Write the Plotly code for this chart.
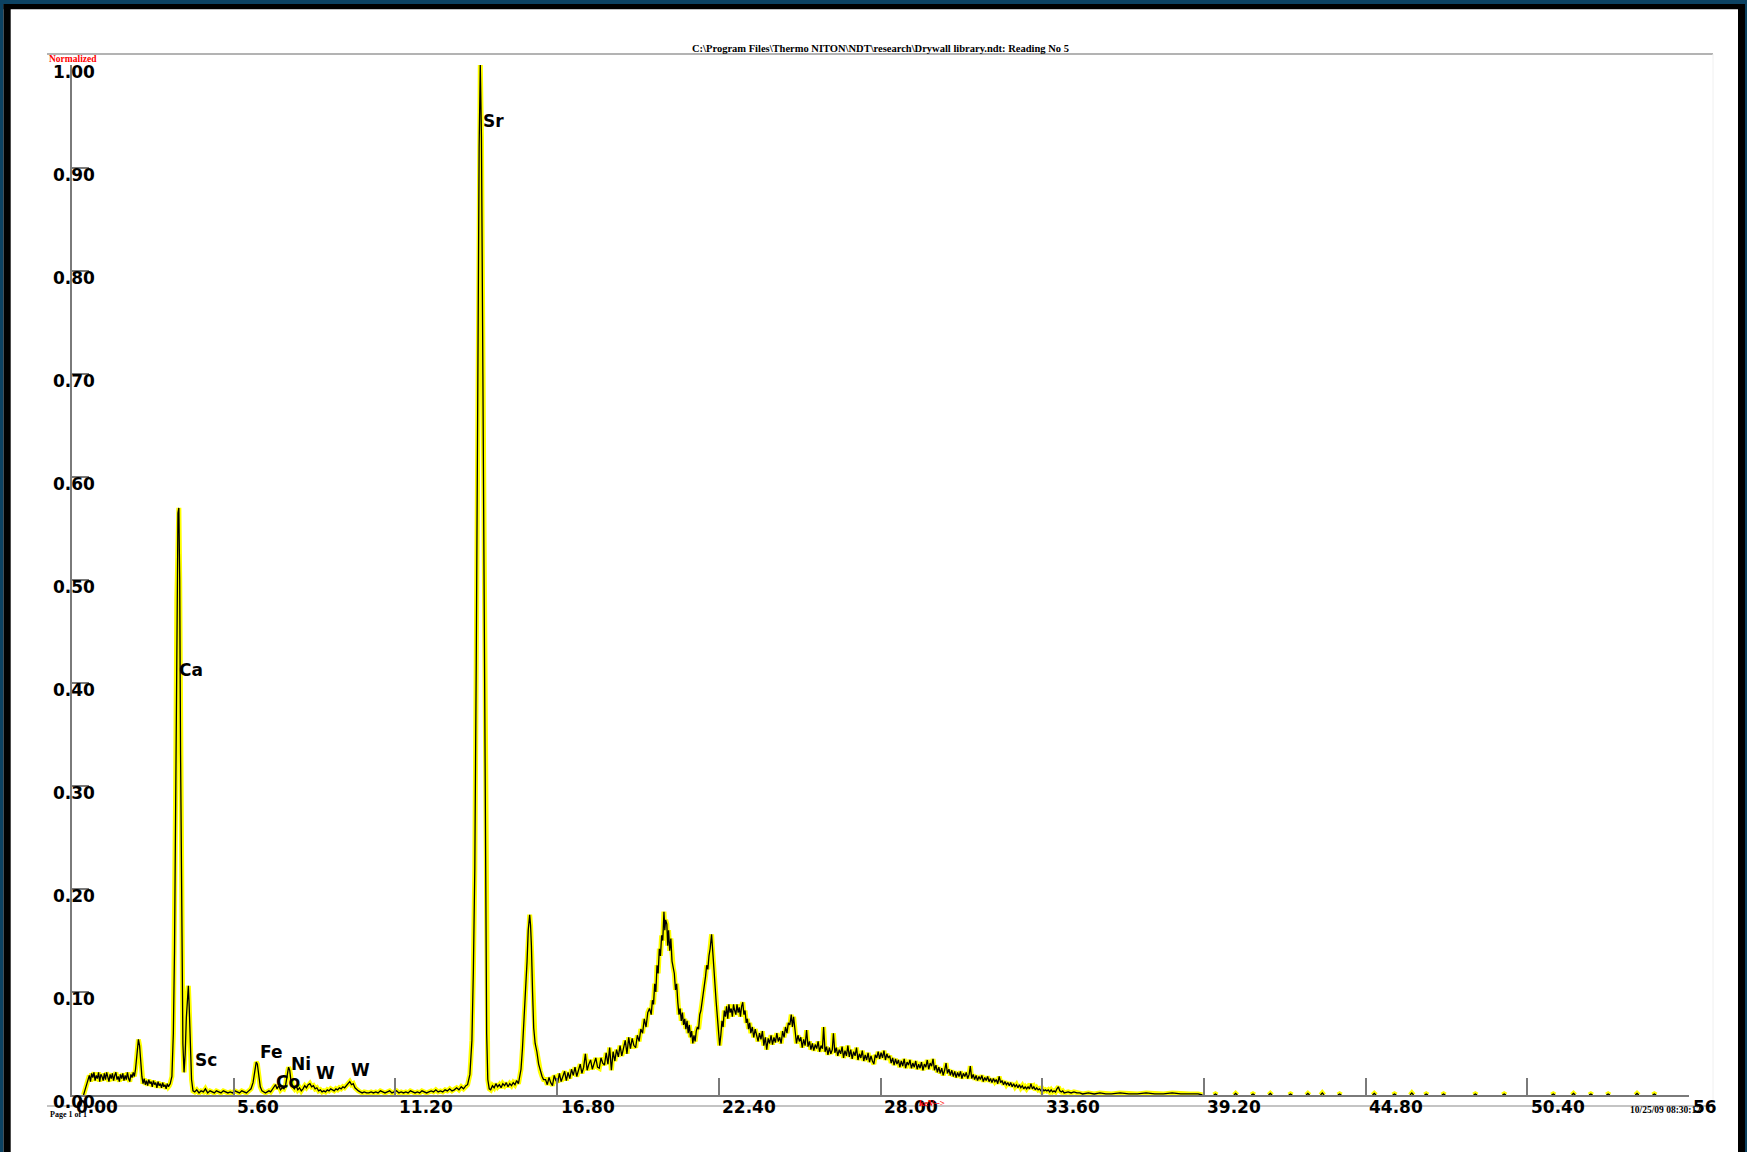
import plotly.graph_objects as go

# ---------------- data ----------------
# (energy keV, normalized intensity)
seg_low = [
    (0.40, 0.000), (0.48, 0.008), (0.55, 0.016), (0.60, 0.019), (0.64, 0.013), (0.68, 0.021),
    (0.72, 0.017), (0.76, 0.022), (0.80, 0.014), (0.84, 0.019), (0.88, 0.016), (0.92, 0.022),
    (0.96, 0.013), (1.00, 0.020), (1.04, 0.018), (1.08, 0.014), (1.12, 0.021), (1.16, 0.015),
    (1.20, 0.022), (1.24, 0.017), (1.28, 0.013), (1.32, 0.020), (1.36, 0.016), (1.40, 0.021),
    (1.44, 0.014), (1.48, 0.019), (1.52, 0.022), (1.56, 0.015), (1.60, 0.018), (1.64, 0.013),
    (1.68, 0.020), (1.72, 0.016), (1.76, 0.021), (1.80, 0.014), (1.84, 0.019), (1.88, 0.015),
    (1.92, 0.022), (1.96, 0.016), (2.00, 0.013), (2.04, 0.020), (2.08, 0.017), (2.12, 0.022),
    (2.16, 0.018), (2.20, 0.025), (2.25, 0.042), (2.30, 0.054), (2.34, 0.048), (2.38, 0.030),
    (2.42, 0.018), (2.46, 0.011), (2.50, 0.016), (2.54, 0.010), (2.58, 0.014), (2.62, 0.009),
    (2.66, 0.015), (2.70, 0.011), (2.74, 0.013), (2.78, 0.008), (2.82, 0.014), (2.86, 0.010),
    (2.90, 0.012), (2.94, 0.007), (2.98, 0.013), (3.02, 0.009), (3.06, 0.011), (3.10, 0.007),
    (3.14, 0.012), (3.18, 0.008), (3.22, 0.010), (3.26, 0.006), (3.30, 0.011), (3.34, 0.008),
    (3.37, 0.009),
]
seg_ca = [
    (3.40, 0.011), (3.46, 0.018), (3.51, 0.060), (3.55, 0.140), (3.59, 0.300), (3.63, 0.480),
    (3.67, 0.565), (3.70, 0.570), (3.73, 0.500), (3.76, 0.330), (3.80, 0.140), (3.84, 0.050),
    (3.88, 0.022), (3.92, 0.040), (3.96, 0.075), (4.00, 0.100), (4.03, 0.106), (4.06, 0.085),
    (4.10, 0.045), (4.14, 0.015), (4.19, 0.004),
]
seg_mid = [
    (4.25, 0.003), (4.32, 0.005), (4.40, 0.002), (4.47, 0.004), (4.55, 0.003), (4.62, 0.006),
    (4.70, 0.002), (4.78, 0.004), (4.85, 0.003), (4.93, 0.002), (5.00, 0.004), (5.08, 0.003),
    (5.16, 0.002), (5.24, 0.004), (5.32, 0.003), (5.40, 0.002), (5.48, 0.003), (5.56, 0.002),
    (5.64, 0.004), (5.72, 0.003), (5.80, 0.002), (5.88, 0.004), (5.96, 0.003), (6.04, 0.002),
    (6.12, 0.004), (6.20, 0.006), (6.27, 0.012), (6.33, 0.024), (6.38, 0.032), (6.42, 0.030),
    (6.47, 0.018), (6.52, 0.008), (6.58, 0.004), (6.64, 0.003), (6.70, 0.002), (6.76, 0.003),
    (6.82, 0.004), (6.88, 0.003), (6.94, 0.006), (7.00, 0.008), (7.05, 0.010), (7.10, 0.006),
    (7.16, 0.009), (7.22, 0.005), (7.28, 0.007), (7.34, 0.006), (7.40, 0.010), (7.45, 0.020),
    (7.50, 0.027), (7.54, 0.024), (7.59, 0.012), (7.64, 0.008), (7.70, 0.006), (7.76, 0.009),
    (7.82, 0.005), (7.88, 0.007), (7.94, 0.004), (8.00, 0.006), (8.06, 0.009), (8.12, 0.007),
    (8.18, 0.010), (8.24, 0.011), (8.30, 0.008), (8.36, 0.009), (8.42, 0.006), (8.48, 0.007),
    (8.54, 0.004), (8.60, 0.005), (8.66, 0.003), (8.72, 0.004), (8.78, 0.003), (8.84, 0.005),
    (8.90, 0.004), (8.96, 0.006), (9.02, 0.005), (9.08, 0.004), (9.14, 0.006), (9.20, 0.005),
    (9.26, 0.007), (9.32, 0.006), (9.38, 0.008), (9.44, 0.007), (9.50, 0.009), (9.56, 0.011),
    (9.62, 0.013), (9.68, 0.010), (9.74, 0.011), (9.80, 0.007), (9.86, 0.005), (9.92, 0.004),
    (9.98, 0.003), (10.05, 0.002), (10.12, 0.003), (10.20, 0.002), (10.28, 0.002), (10.36, 0.003),
    (10.44, 0.002), (10.52, 0.003), (10.60, 0.002), (10.68, 0.004), (10.76, 0.003), (10.84, 0.002),
    (10.92, 0.003), (11.00, 0.004), (11.08, 0.002), (11.16, 0.003), (11.24, 0.004), (11.32, 0.002),
    (11.40, 0.003), (11.48, 0.002), (11.56, 0.003), (11.64, 0.002), (11.72, 0.004), (11.80, 0.003),
    (11.88, 0.002), (11.96, 0.003), (12.04, 0.002), (12.12, 0.004), (12.20, 0.003), (12.28, 0.002),
    (12.36, 0.003), (12.44, 0.004), (12.52, 0.003), (12.60, 0.005), (12.68, 0.003), (12.76, 0.004),
    (12.84, 0.003), (12.92, 0.005), (13.00, 0.004), (13.08, 0.006), (13.16, 0.004), (13.24, 0.005),
    (13.32, 0.007), (13.40, 0.005), (13.48, 0.008), (13.56, 0.006), (13.64, 0.009),
]
seg_sr = [
    (13.70, 0.010), (13.78, 0.020), (13.85, 0.053), (13.90, 0.120), (13.95, 0.220), (14.00, 0.420),
    (14.05, 0.680), (14.10, 0.920), (14.14, 1.000), (14.18, 0.930), (14.23, 0.700), (14.28, 0.400),
    (14.32, 0.200), (14.36, 0.060), (14.40, 0.015), (14.45, 0.006),
    (14.50, 0.005), (14.56, 0.009), (14.62, 0.007), (14.68, 0.011), (14.74, 0.008), (14.80, 0.010),
    (14.86, 0.007), (14.92, 0.011), (14.98, 0.009), (15.04, 0.012), (15.10, 0.008), (15.16, 0.011),
    (15.22, 0.009), (15.28, 0.012), (15.34, 0.010), (15.40, 0.014), (15.46, 0.011), (15.50, 0.017),
    (15.55, 0.025), (15.60, 0.045), (15.65, 0.070), (15.70, 0.100), (15.76, 0.130), (15.80, 0.160),
    (15.85, 0.175), (15.88, 0.165), (15.91, 0.145), (15.95, 0.100), (15.99, 0.065), (16.04, 0.050),
    (16.10, 0.042), (16.16, 0.030), (16.22, 0.023), (16.28, 0.018), (16.33, 0.015),
]
seg_scatter = [
    (16.40, 0.015), (16.46, 0.010), (16.52, 0.017), (16.58, 0.012), (16.64, 0.009), (16.70, 0.019),
    (16.76, 0.014), (16.82, 0.012), (16.88, 0.021), (16.94, 0.013), (17.00, 0.019), (17.06, 0.023),
    (17.12, 0.014), (17.18, 0.022), (17.24, 0.016), (17.30, 0.025), (17.36, 0.019), (17.42, 0.027),
    (17.48, 0.018), (17.54, 0.023), (17.60, 0.030), (17.66, 0.021), (17.72, 0.027), (17.78, 0.040),
    (17.84, 0.024), (17.90, 0.030), (17.96, 0.034), (18.02, 0.025), (18.08, 0.032), (18.14, 0.036),
    (18.20, 0.027), (18.26, 0.026), (18.32, 0.036), (18.38, 0.031), (18.44, 0.029), (18.50, 0.041),
    (18.56, 0.030), (18.62, 0.046), (18.68, 0.024), (18.74, 0.042), (18.80, 0.033), (18.86, 0.044),
    (18.92, 0.037), (18.98, 0.048), (19.04, 0.038), (19.10, 0.045), (19.16, 0.053), (19.22, 0.040),
    (19.28, 0.056), (19.34, 0.045), (19.40, 0.055), (19.46, 0.048), (19.52, 0.046), (19.58, 0.058),
    (19.64, 0.052), (19.70, 0.064), (19.76, 0.060), (19.82, 0.074), (19.88, 0.066), (19.94, 0.080),
    (20.00, 0.084), (20.06, 0.078), (20.10, 0.092), (20.14, 0.088), (20.18, 0.108), (20.22, 0.100),
    (20.26, 0.126), (20.30, 0.118), (20.34, 0.142), (20.38, 0.135), (20.42, 0.155), (20.46, 0.150),
    (20.50, 0.178), (20.53, 0.160), (20.56, 0.170), (20.60, 0.166), (20.63, 0.145), (20.66, 0.160),
    (20.70, 0.140), (20.74, 0.152), (20.78, 0.130), (20.82, 0.124), (20.86, 0.118), (20.90, 0.102),
    (20.94, 0.108), (20.98, 0.090), (21.02, 0.078), (21.06, 0.084), (21.10, 0.072), (21.14, 0.080),
    (21.18, 0.068), (21.22, 0.074), (21.26, 0.064), (21.30, 0.072), (21.34, 0.060), (21.38, 0.068),
    (21.42, 0.056), (21.46, 0.062), (21.50, 0.050), (21.54, 0.058), (21.58, 0.052), (21.62, 0.062),
    (21.66, 0.066), (21.70, 0.064), (21.74, 0.078), (21.78, 0.082), (21.82, 0.090), (21.86, 0.096),
    (21.90, 0.108), (21.94, 0.115), (21.98, 0.126), (22.02, 0.122), (22.06, 0.135), (22.10, 0.142),
    (22.15, 0.156), (22.19, 0.138), (22.23, 0.118), (22.27, 0.104), (22.31, 0.090), (22.35, 0.076),
    (22.39, 0.060), (22.43, 0.048), (22.47, 0.058), (22.51, 0.072), (22.55, 0.066), (22.59, 0.082),
    (22.63, 0.076), (22.67, 0.086), (22.71, 0.074), (22.75, 0.088), (22.79, 0.080), (22.83, 0.084),
    (22.87, 0.076), (22.91, 0.088), (22.95, 0.082), (22.99, 0.078), (23.03, 0.088), (23.07, 0.080),
    (23.11, 0.085), (23.15, 0.076), (23.19, 0.086), (23.23, 0.090), (23.27, 0.078), (23.31, 0.082),
    (23.35, 0.070), (23.39, 0.074), (23.43, 0.064), (23.47, 0.070), (23.51, 0.060), (23.56, 0.066),
    (23.61, 0.056), (23.66, 0.064), (23.71, 0.058), (23.76, 0.052), (23.81, 0.060), (23.86, 0.054),
    (23.91, 0.062), (23.96, 0.048), (24.01, 0.056), (24.06, 0.044), (24.11, 0.055), (24.16, 0.050),
    (24.21, 0.058), (24.26, 0.049), (24.31, 0.056), (24.36, 0.051), (24.41, 0.060), (24.46, 0.052),
    (24.51, 0.056), (24.56, 0.050), (24.61, 0.062), (24.66, 0.056), (24.71, 0.066), (24.76, 0.060),
    (24.81, 0.070), (24.86, 0.068), (24.91, 0.078), (24.95, 0.066), (24.99, 0.076),
]
seg_tail = [
    (25.04, 0.060), (25.09, 0.050), (25.14, 0.058), (25.19, 0.052), (25.24, 0.056), (25.29, 0.046),
    (25.34, 0.054), (25.39, 0.048), (25.44, 0.063), (25.49, 0.047), (25.54, 0.052), (25.59, 0.044),
    (25.64, 0.050), (25.69, 0.043), (25.74, 0.049), (25.79, 0.045), (25.84, 0.052), (25.89, 0.042),
    (25.94, 0.048), (25.99, 0.045), (26.03, 0.066), (26.08, 0.042), (26.13, 0.047), (26.18, 0.039),
    (26.23, 0.046), (26.28, 0.040), (26.33, 0.044), (26.37, 0.060), (26.42, 0.041), (26.47, 0.046),
    (26.52, 0.038), (26.57, 0.044), (26.62, 0.040), (26.67, 0.047), (26.72, 0.036), (26.77, 0.043),
    (26.82, 0.038), (26.87, 0.048), (26.92, 0.037), (26.97, 0.044), (27.02, 0.035), (27.07, 0.042),
    (27.12, 0.038), (27.17, 0.046), (27.22, 0.034), (27.27, 0.040), (27.32, 0.036), (27.37, 0.043),
    (27.42, 0.033), (27.47, 0.039), (27.52, 0.034), (27.57, 0.041), (27.62, 0.032), (27.67, 0.038),
    (27.72, 0.033), (27.77, 0.030), (27.82, 0.039), (27.87, 0.036), (27.92, 0.042), (27.97, 0.035),
    (28.02, 0.041), (28.07, 0.036), (28.12, 0.043), (28.17, 0.034), (28.22, 0.040), (28.27, 0.036),
    (28.32, 0.038), (28.37, 0.031), (28.42, 0.036), (28.47, 0.029), (28.52, 0.035), (28.57, 0.030),
    (28.62, 0.034), (28.67, 0.027), (28.72, 0.033), (28.77, 0.028), (28.82, 0.035), (28.87, 0.026),
    (28.92, 0.032), (28.97, 0.029), (29.02, 0.034), (29.07, 0.026), (29.12, 0.031), (29.17, 0.027),
    (29.22, 0.033), (29.27, 0.025), (29.32, 0.030), (29.37, 0.026), (29.42, 0.032), (29.47, 0.024),
    (29.52, 0.030), (29.57, 0.027), (29.62, 0.034), (29.67, 0.025), (29.72, 0.031), (29.77, 0.028),
    (29.82, 0.035), (29.87, 0.024), (29.92, 0.029), (29.97, 0.022), (30.02, 0.027), (30.07, 0.021),
    (30.12, 0.026), (30.17, 0.019), (30.22, 0.024), (30.27, 0.031), (30.32, 0.021), (30.37, 0.025),
    (30.42, 0.019), (30.47, 0.024), (30.52, 0.018), (30.57, 0.023), (30.62, 0.017), (30.67, 0.022),
    (30.72, 0.018), (30.77, 0.023), (30.82, 0.016), (30.87, 0.021), (30.92, 0.018), (30.97, 0.022),
    (31.02, 0.016), (31.07, 0.020), (31.11, 0.028), (31.16, 0.016), (31.21, 0.020), (31.26, 0.015),
    (31.31, 0.019), (31.36, 0.014), (31.41, 0.018), (31.46, 0.015), (31.51, 0.019), (31.56, 0.013),
    (31.61, 0.017), (31.66, 0.014), (31.71, 0.018), (31.76, 0.013), (31.81, 0.016), (31.86, 0.012),
    (31.91, 0.016), (31.96, 0.013), (32.01, 0.015), (32.06, 0.011), (32.11, 0.018), (32.16, 0.012),
    (32.21, 0.014), (32.26, 0.010), (32.31, 0.013), (32.36, 0.010), (32.41, 0.012), (32.46, 0.009),
    (32.51, 0.012), (32.56, 0.008), (32.61, 0.011), (32.66, 0.008), (32.71, 0.010), (32.76, 0.007),
    (32.81, 0.010), (32.86, 0.007), (32.91, 0.009), (32.96, 0.006), (33.01, 0.008), (33.06, 0.006),
    (33.11, 0.008), (33.16, 0.006), (33.21, 0.011), (33.26, 0.006), (33.31, 0.008), (33.36, 0.005),
    (33.41, 0.007), (33.46, 0.005), (33.51, 0.006), (33.56, 0.004), (33.61, 0.006), (33.66, 0.004),
    (33.71, 0.005), (33.76, 0.004), (33.81, 0.005), (33.86, 0.003), (33.91, 0.005), (33.96, 0.003),
    (34.01, 0.004), (34.06, 0.003), (34.11, 0.006), (34.16, 0.008), (34.21, 0.004), (34.26, 0.003),
    (34.31, 0.004), (34.36, 0.002), (34.50, 0.003), (34.60, 0.002), (34.70, 0.003), (34.80, 0.002),
    (34.90, 0.002), (35.00, 0.001), (35.20, 0.002), (35.40, 0.001), (35.60, 0.002), (35.80, 0.001),
    (36.00, 0.001), (36.30, 0.002), (36.60, 0.001), (36.90, 0.001), (37.20, 0.002), (37.50, 0.001),
    (37.80, 0.001), (38.10, 0.002), (38.40, 0.001), (38.70, 0.001), (39.00, 0.001), (39.15, 0.000),
]
# isolated tiny counts above 39 keV (gaps in between)
blip_energy = [39.6, 40.3, 40.9, 41.5, 42.2, 42.8, 43.3, 43.9, 45.1, 45.8, 46.4,
               46.9, 47.5, 48.6, 49.6, 51.3, 52.0, 52.6, 53.2, 54.2, 54.8]
blip_height = [0.001, 0.0015, 0.001, 0.0015, 0.001, 0.0015, 0.002, 0.001, 0.0015, 0.001, 0.002,
               0.001, 0.001, 0.001, 0.001, 0.001, 0.0015, 0.001, 0.001, 0.0015, 0.001]

x_tick_vals = [0, 5.6, 11.2, 16.8, 22.4, 28.0, 33.6, 39.2, 44.8, 50.4, 56]
x_tick_text = ["0.00", "5.60", "11.20", "16.80", "22.40", "28.00", "33.60", "39.20", "44.80", "50.40", "56"]
y_tick_vals = [0.0, 0.1, 0.2, 0.3, 0.4, 0.5, 0.6, 0.7, 0.8, 0.9, 1.0]
y_tick_text = ["0.00", "0.10", "0.20", "0.30", "0.40", "0.50", "0.60", "0.70", "0.80", "0.90", "1.00"]

peak_names = ["Sr", "Ca", "Sc", "Fe", "Ni", "Co", "W", "W"]
peak_label_kev = [14.17, 3.65, 4.19, 6.44, 7.50, 6.98, 8.37, 9.58]
peak_label_level = [0.9456, 0.4126, 0.034, 0.0415, 0.0304, 0.0129, 0.021, 0.0243]

title_text = "C:\\Program Files\\Thermo NITON\\NDT\\research\\Drywall library.ndt: Reading No 5"

# ---------------- build series ----------------
energy, intensity = [], []
for seg in (seg_low, seg_ca, seg_mid, seg_sr, seg_scatter, seg_tail):
    for e, v in seg:
        energy.append(e)
        intensity.append(v)
for e, h in zip(blip_energy, blip_height):
    energy += [None, e - 0.06, e, e + 0.06]
    intensity += [None, 0.0, h, 0.0]

# ---------------- layout geometry ----------------
W, H = 1747, 1152
ML, MR, MT, MB = 72, 58, 65, 57
PW, PH = W - ML - MR, H - MT - MB
X_RANGE = [0, 56]
Y_RANGE = [0, 1.0]


def px(xp):
    return (xp - ML) / PW


def py(yp):
    return (H - MB - yp) / PH


def xdata_to_paper(v):
    return (v - X_RANGE[0]) / (X_RANGE[1] - X_RANGE[0])


def ydata_to_paper(v):
    return (v - Y_RANGE[0]) / (Y_RANGE[1] - Y_RANGE[0])


fig = go.Figure()
fig.add_trace(go.Scatter(x=energy, y=intensity, mode="lines",
                         line=dict(color="#ffff00", width=5), cliponaxis=False,
                         hoverinfo="skip", showlegend=False, connectgaps=False))
fig.add_trace(go.Scatter(x=energy, y=intensity, mode="lines",
                         line=dict(color="#000000", width=1.3), cliponaxis=False,
                         showlegend=False, connectgaps=False))

label_font = dict(family="DejaVu Sans", size=17, color="#000000", weight="bold")
annotations = []
for v, t in zip(y_tick_vals, y_tick_text):
    annotations.append(dict(x=px(50.5), y=ydata_to_paper(v) - 7.0 / PH, xref="paper", yref="paper",
                            text=t, showarrow=False, xanchor="left", yanchor="middle", font=label_font))
for v, t in zip(x_tick_vals, x_tick_text):
    annotations.append(dict(x=xdata_to_paper(v) + 1.5 / PW, y=-12.0 / PH, xref="paper", yref="paper",
                            text=t, showarrow=False, xanchor="left", yanchor="middle", font=label_font))
for n, e, lv in zip(peak_names, peak_label_kev, peak_label_level):
    annotations.append(dict(x=e, y=lv, xref="x", yref="y", text=n, showarrow=False,
                            xanchor="left", yanchor="middle", font=label_font))

serif_bold = dict(family="Liberation Serif", weight="bold", color="#000000")
annotations += [
    dict(x=0.5, y=py(49), xref="paper", yref="paper", text=title_text, showarrow=False,
         xanchor="center", yanchor="middle", font=dict(serif_bold, size=10.5)),
    dict(x=px(47), y=py(59), xref="paper", yref="paper", text="Normalized", showarrow=False,
         xanchor="left", yanchor="middle", font=dict(serif_bold, size=9.5, color="#ff0000")),
    dict(x=px(48), y=py(1114), xref="paper", yref="paper", text="Page 1 of 1", showarrow=False,
         xanchor="left", yanchor="middle", font=dict(serif_bold, size=8)),
    dict(x=px(1628), y=py(1110), xref="paper", yref="paper", text="10/25/09 08:30:12", showarrow=False,
         xanchor="left", yanchor="middle", font=dict(serif_bold, size=9.5)),
    dict(x=px(932), y=py(1103), xref="paper", yref="paper", text="keV--&gt;", showarrow=False,
         xanchor="center", yanchor="middle", font=dict(serif_bold, size=9, color="#ff0000")),
]

BLUE = "#0c4262"
shapes = [
    # frame around the white sheet
    dict(type="rect", xref="paper", yref="paper", x0=px(0), x1=px(3.5), y0=py(H), y1=py(0),
         fillcolor=BLUE, line=dict(width=0), layer="below"),
    dict(type="rect", xref="paper", yref="paper", x0=px(0), x1=px(W), y0=py(4), y1=py(0),
         fillcolor=BLUE, line=dict(width=0), layer="below"),
    dict(type="rect", xref="paper", yref="paper", x0=px(1745), x1=px(W), y0=py(H), y1=py(0),
         fillcolor=BLUE, line=dict(width=0), layer="below"),
    dict(type="rect", xref="paper", yref="paper", x0=px(3.5), x1=px(10.7), y0=py(H), y1=py(4),
         fillcolor="#000000", line=dict(width=0), layer="below"),
    dict(type="rect", xref="paper", yref="paper", x0=px(3.5), x1=px(1745), y0=py(9.3), y1=py(4),
         fillcolor="#000000", line=dict(width=0), layer="below"),
    dict(type="rect", xref="paper", yref="paper", x0=px(1738), x1=px(1745), y0=py(H), y1=py(4),
         fillcolor="#000000", line=dict(width=0), layer="below"),
    # header / footer rules
    dict(type="line", xref="paper", yref="paper", x0=px(47), x1=px(1713), y0=py(54), y1=py(54),
         line=dict(color="#9a9a9a", width=1.5)),
    dict(type="line", xref="paper", yref="paper", x0=px(47), x1=px(1713), y0=py(1106), y1=py(1106),
         line=dict(color="#b0b0b0", width=1.5)),
    dict(type="line", xref="paper", yref="paper", x0=px(1713), x1=px(1713), y0=py(54), y1=py(1106),
         line=dict(color="#f0f0f0", width=1)),
]

axis_common = dict(showgrid=False, zeroline=False, showline=True, linecolor="#7a7a7a", linewidth=1.5,
                   ticks="inside", ticklen=17, tickwidth=1.5, tickcolor="#7a7a7a",
                   showticklabels=False, fixedrange=True)

fig.update_layout(
    width=W, height=H, autosize=False,
    margin=dict(l=ML, r=MR, t=MT, b=MB, pad=0),
    paper_bgcolor="#ffffff", plot_bgcolor="rgba(0,0,0,0)",
    xaxis=dict(axis_common, range=X_RANGE, tickmode="array", tickvals=x_tick_vals),
    yaxis=dict(axis_common, range=Y_RANGE, tickmode="array", tickvals=y_tick_vals[1:]),
    annotations=annotations, shapes=shapes, showlegend=False,
)

fig.write_html("out.html", include_plotlyjs=True, config={"displayModeBar": False},
               post_script="document.body.style.margin='0';document.body.style.overflow='hidden';")
